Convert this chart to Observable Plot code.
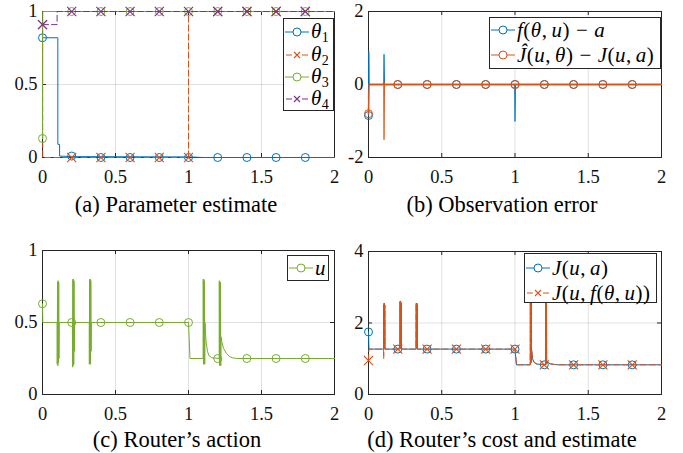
<!DOCTYPE html>
<html><head><meta charset="utf-8">
<script src="https://cdn.jsdelivr.net/npm/d3@7"></script>
<script src="https://cdn.jsdelivr.net/npm/@observablehq/plot@0.6"></script>
<style>
body{margin:0;background:#fff;}
#root{position:relative;width:683px;height:453px;overflow:hidden;font-family:"Liberation Serif","Times New Roman",serif;color:#000;}
.panel{position:absolute;}
.cap{position:absolute;font-size:22.5px;line-height:24px;white-space:nowrap;transform:translateX(-50%);}
.leg{position:absolute;background:#fff;border:1px solid #262626;box-sizing:border-box;}
.row{position:absolute;left:0;height:24px;display:flex;align-items:center;white-space:nowrap;font-size:21px;letter-spacing:0.5px;font-family:"Liberation Serif",serif;}
.row svg{flex:none;margin-left:1px;margin-right:2px;}
sub{font-size:14px;vertical-align:-4px;font-style:normal;}
.sp{display:inline-block;width:4px;}
.op{display:inline-block;margin:0 6px;}
</style></head><body><div id="root"></div>
<script>
// ---------- data ----------
const xTicks = [0, 0.5, 1, 1.5, 2];
const markT = [0, 0.2, 0.4, 0.6, 0.8, 1.0, 1.2, 1.4, 1.6, 1.8];

// (a) Parameter estimate
const theta1 = [[0,0.82],[0.105,0.82],[0.105,0.09],[0.117,0.09],[0.117,0.01],[0.2,0.006],[1.0,0.004],[1.1,0],[2,0]];
const theta2 = [[0,0.91],[0.002,0],[1.0,0],[1.0,1],[2,1]];
const theta3 = [[0,0.13],[0.002,1],[2,1]];
const theta4 = [[0,0.91],[0.1,0.91],[0.1,1],[2,1]];
const theta1M = [0.82,0.01,0,0,0,0,0,0,0,0];
const theta2M = [0.91,0,0,0,0,0,1,1,1,1];
const theta3M = [0.13,1,1,1,1,1,1,1,1,1];
const theta4M = [0.91,1,1,1,1,1,1,1,1,1];

// (b) Observation error
const errF = [[0,-0.85],[0.002,0.9],[0.004,0],[0.105,0],[0.106,0.82],[0.108,0],[0.999,0],[1.0,-1.0],[1.002,0],[2,0]];
const errJ = [[0,-0.8],[0.002,-0.3],[0.004,0],[0.105,0],[0.106,-1.5],[0.108,0.05],[0.11,0],[2,0]];
const errFM = [-0.85,0,0,0,0,0,0,0,0,0];
const errJM = [-0.8,0,0,0,0,0,0,0,0,0];

// (c) Router's action
const uLine = [[0,0.63],[0.002,0.5],[0.1,0.5],[0.101,0.21],[0.103,0.78],[0.105,0.2],[0.107,0.79],[0.109,0.22],[0.111,0.78],[0.113,0.25],[0.115,0.5],
  [0.205,0.5],[0.206,0.19],[0.208,0.8],[0.21,0.2],[0.212,0.8],[0.214,0.21],[0.216,0.79],[0.218,0.3],[0.22,0.5],
  [0.32,0.5],[0.321,0.21],[0.323,0.8],[0.325,0.22],[0.327,0.8],[0.329,0.21],[0.331,0.79],[0.333,0.3],[0.335,0.5],
  [1.0,0.5],[1.01,0.25],[1.1,0.25],[1.101,0.8],[1.103,0.21],[1.105,0.8],[1.107,0.22],[1.109,0.79],[1.111,0.21],[1.113,0.5],
  [1.12,0.37],[1.13,0.3],[1.14,0.27],[1.16,0.255],[1.21,0.25],[1.211,0.79],[1.213,0.2],[1.215,0.78],[1.217,0.21],[1.219,0.78],[1.221,0.2],[1.223,0.4],
  [1.227,0.37],[1.24,0.32],[1.26,0.285],[1.28,0.265],[1.3,0.255],[1.33,0.25],[2,0.25]];
const uM = [0.63,0.5,0.5,0.5,0.5,0.5,0.25,0.25,0.25,0.25];

// (d) Router's cost and estimate
const jA = [[0,1.75],[0.003,1.27],[0.104,1.27],[0.105,2.5],[0.106,1.3],[0.107,2.55],[0.108,1.3],[0.109,2.55],[0.11,1.3],[0.111,2.5],[0.112,1.27],
  [0.215,1.27],[0.216,2.6],[0.217,1.3],[0.218,2.6],[0.219,1.3],[0.22,2.6],[0.221,1.3],[0.222,2.55],[0.223,1.27],
  [0.325,1.27],[0.326,2.55],[0.327,1.3],[0.328,2.55],[0.329,1.3],[0.33,2.55],[0.331,1.3],[0.332,2.5],[0.333,1.27],
  [1.0,1.27],[1.01,0.83],[1.104,0.83],[1.105,2.9],[1.106,0.9],[1.107,2.9],[1.108,0.9],[1.109,2.9],[1.11,0.9],[1.111,2.9],[1.112,1.3],
  [1.12,1.0],[1.13,0.9],[1.15,0.85],[1.208,0.83],[1.209,2.9],[1.21,0.85],[1.211,2.9],[1.212,0.85],[1.213,2.9],[1.214,0.85],[1.215,2.9],[1.216,0.95],
  [1.225,0.9],[1.24,0.86],[1.27,0.84],[1.3,0.83],[2,0.83]];
const jF = [[0,0.95],[0.003,1.27],[0.103,1.27],[0.104,1.0],[0.105,2.5],[0.106,1.3],[0.107,2.55],[0.108,1.3],[0.109,2.55],[0.11,1.3],[0.111,2.5],[0.112,1.27],
  [0.215,1.27],[0.216,2.6],[0.217,1.3],[0.218,2.6],[0.219,1.3],[0.22,2.6],[0.221,1.3],[0.222,2.55],[0.223,1.27],
  [0.325,1.27],[0.326,2.55],[0.327,1.3],[0.328,2.55],[0.329,1.3],[0.33,2.55],[0.331,1.3],[0.332,2.5],[0.333,1.27],
  [1.0,1.27],[1.01,0.83],[1.104,0.83],[1.105,2.9],[1.106,0.9],[1.107,2.9],[1.108,0.9],[1.109,2.9],[1.11,0.9],[1.111,2.9],[1.112,1.3],
  [1.12,1.0],[1.13,0.9],[1.15,0.85],[1.208,0.83],[1.209,2.9],[1.21,0.85],[1.211,2.9],[1.212,0.85],[1.213,2.9],[1.214,0.85],[1.215,2.9],[1.216,0.95],
  [1.225,0.9],[1.24,0.86],[1.27,0.84],[1.3,0.83],[2,0.83]];
const jAM = [1.75,1.27,1.27,1.27,1.27,1.27,0.83,0.83,0.83,0.83];
const jFM = [0.95,1.27,1.27,1.27,1.27,1.27,0.83,0.83,0.83,0.83];

// ---------- style ----------
const C = {blue:"#0072BD", orange:"#D95319", purple:"#7E2F8E", green:"#77AC30"};
const AX = "#262626";
const DASH = "6,3";
const root = document.getElementById("root");

function series(pairs, color, dashed, sw=1) {
  return Plot.line(pairs, {x: d => d[0], y: d => d[1], stroke: color, strokeWidth: sw, strokeDasharray: dashed ? DASH : null, curve: "linear"});
}
function markers(vals, color, symbol) {
  const data = markT.map((t, i) => [t, vals[i]]);
  return symbol === "times"
    ? Plot.dot(data, {x: d => d[0], y: d => d[1], symbol: "times", r: 4.2, stroke: color, strokeWidth: 1.1})
    : Plot.dot(data, {x: d => d[0], y: d => d[1], r: 4, fill: "none", stroke: color, strokeWidth: 1});
}

function panel({left, top, width, height, mt, mr, mb, ml, yDomain, yTicks, marks}) {
  const W = width - ml - mr, H = height - mt - mb;
  const fmt = d => String(d);
  const svg = Plot.plot({
    width, height, marginTop: mt, marginRight: mr, marginBottom: mb, marginLeft: ml,
    style: {fontFamily: "'Liberation Serif', 'Times New Roman', serif", fontSize: "18.5px", color: "#111", background: "transparent", overflow: "visible"},
    x: {domain: [0, 2], label: null},
    y: {domain: yDomain, label: null},
    marks: [
      Plot.gridX({ticks: xTicks, stroke: "#000", strokeOpacity: 0.12}),
      Plot.gridY({ticks: yTicks, stroke: "#000", strokeOpacity: 0.12}),
      Plot.frame({stroke: AX}),
      Plot.tickX(xTicks, {x: d => d, insetTop: H - 4, stroke: AX}),
      Plot.tickX(xTicks, {x: d => d, insetBottom: H - 4, stroke: AX}),
      Plot.tickY(yTicks, {y: d => d, insetRight: W - 4, stroke: AX}),
      Plot.tickY(yTicks, {y: d => d, insetLeft: W - 4, stroke: AX}),
      Plot.axisX({ticks: xTicks, tickSize: 0, tickPadding: 12, tickFormat: fmt}),
      Plot.axisY({ticks: yTicks, tickSize: 0, tickPadding: 5, tickFormat: fmt}),
      ...marks
    ]
  });
  svg.classList.add("panel");
  svg.style.left = left + "px";
  svg.style.top = top + "px";
  svg.style.position = "absolute";
  root.appendChild(svg);
}

function legend(x, y, w, h, rowCenters, entries) {
  const box = document.createElement("div");
  box.className = "leg";
  Object.assign(box.style, {left: x + "px", top: y + "px", width: w + "px", height: h + "px"});
  entries.forEach((e, i) => {
    const row = document.createElement("div");
    row.className = "row";
    row.style.top = (rowCenters[i] - y - 1 - 12) + "px";
    const ns = "http://www.w3.org/2000/svg";
    const s = document.createElementNS(ns, "svg");
    s.setAttribute("width", 24); s.setAttribute("height", 24);
    let inner = "";
    if (e.dashed) {
      inner += `<line x1="1" x2="7" y1="12" y2="12" stroke="${e.color}"/><line x1="17" x2="23" y1="12" y2="12" stroke="${e.color}"/>`;
    } else {
      inner += `<line x1="0" x2="24" y1="12" y2="12" stroke="${e.color}"/>`;
    }
    if (e.symbol === "times") inner += `<path d="M9,9L15,15M15,9L9,15" stroke="${e.color}" stroke-width="1.1"/>`;
    else inner += `<circle cx="12" cy="12" r="4" fill="#fff" stroke="${e.color}"/>`;
    s.innerHTML = inner;
    row.appendChild(s);
    const t = document.createElement("span");
    t.innerHTML = e.html;
    row.appendChild(t);
    box.appendChild(row);
  });
  root.appendChild(box);
}
function caption(cx, cy, text) {
  const d = document.createElement("div");
  d.className = "cap";
  d.textContent = text;
  d.style.left = cx + "px";
  d.style.top = (cy - 12) + "px";
  root.appendChild(d);
}

// (a)
panel({left: 0, top: 0, width: 341, height: 190, mt: 11, mr: 7, mb: 33, ml: 42, yDomain: [0, 1], yTicks: [0, 0.5, 1], marks: [
  series(theta1, C.blue, false), markers(theta1M, C.blue, "circle"),
  series(theta2, C.orange, true), markers(theta2M, C.orange, "times"),
  series(theta3, C.green, false), markers(theta3M, C.green, "circle"),
  series(theta4, C.purple, true), markers(theta4M, C.purple, "times")
]});
// (b)
panel({left: 340, top: 0, width: 343, height: 190, mt: 11, mr: 22, mb: 33, ml: 28, yDomain: [-2, 2], yTicks: [-2, 0, 2], marks: [
  series(errF, C.blue, false, 1.3), markers(errFM, C.blue, "circle"),
  series(errJ, C.orange, false, 1.3), markers(errJM, C.orange, "circle")
]});
// (c)
panel({left: 0, top: 230, width: 341, height: 197, mt: 20, mr: 7, mb: 33, ml: 42, yDomain: [0, 1], yTicks: [0, 0.5, 1], marks: [
  series(uLine, C.green, false), markers(uM, C.green, "circle")
]});
// (d)
panel({left: 340, top: 230, width: 343, height: 197, mt: 21, mr: 22, mb: 33, ml: 28, yDomain: [0, 4], yTicks: [0, 2, 4], marks: [
  series(jA, C.blue, false), markers(jAM, C.blue, "circle"),
  series(jF, C.orange, true), markers(jFM, C.orange, "times")
]});

const comma = `,<span class="sp"></span>`;
legend(283, 18, 51, 93, [32, 55, 77, 99], [
  {color: C.blue, symbol: "circle", html: "<i>θ</i><sub>1</sub>"},
  {color: C.orange, symbol: "times", dashed: true, html: "<i>θ</i><sub>2</sub>"},
  {color: C.green, symbol: "circle", html: "<i>θ</i><sub>3</sub>"},
  {color: C.purple, symbol: "times", dashed: true, html: "<i>θ</i><sub>4</sub>"}
]);
legend(489, 17, 172, 52, [30, 55], [
  {color: C.blue, symbol: "circle", html: `<i>f</i>(<i>θ</i>${comma}<i>u</i>)<span class="op">−</span><i>a</i>`},
  {color: C.orange, symbol: "circle", html: `<i>Ĵ</i>(<i>u</i>${comma}<i>θ</i>)<span class="op">−</span><i>J</i>(<i>u</i>${comma}<i>a</i>)`}
]);
legend(287, 255, 42, 26, [268], [
  {color: C.green, symbol: "circle", html: "<i>u</i>"}
]);
legend(524, 253, 133, 50, [268, 293], [
  {color: C.blue, symbol: "circle", html: `<i>J</i>(<i>u</i>${comma}<i>a</i>)`},
  {color: C.orange, symbol: "times", dashed: true, html: `<i>J</i>(<i>u</i>${comma}<i>f</i>(<i>θ</i>${comma}<i>u</i>))`}
]);

caption(176, 205, "(a) Parameter estimate");
caption(502, 205, "(b) Observation error");
caption(177, 440, "(c) Router’s action");
caption(502, 440, "(d) Router’s cost and estimate");
</script></body></html>
